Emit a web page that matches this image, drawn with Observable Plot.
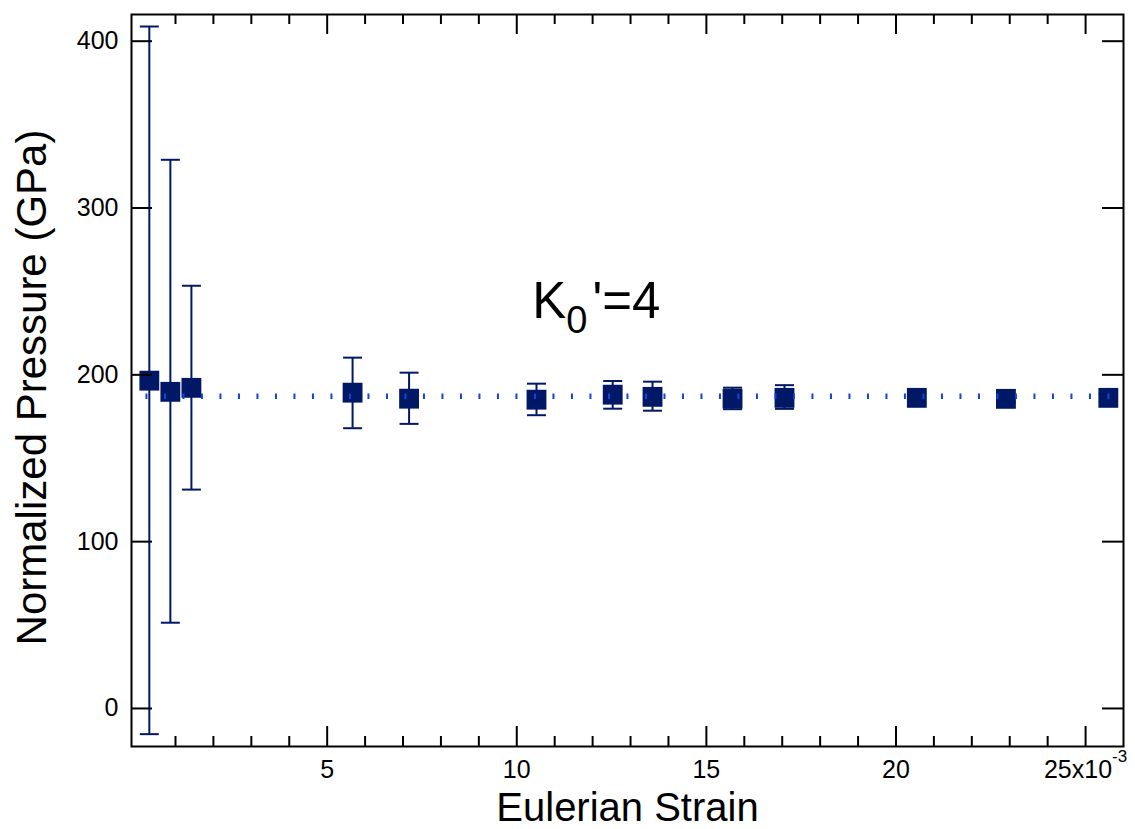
<!DOCTYPE html>
<html>
<head>
<meta charset="utf-8">
<script src="https://cdn.jsdelivr.net/npm/d3@7"></script>
<script src="https://cdn.jsdelivr.net/npm/@observablehq/plot@0.6"></script>
<style>
  html, body { margin: 0; padding: 0; background: #ffffff; }
  #chart { width: 1135px; height: 829px; }
</style>
</head>
<body>
<div id="chart"></div>
<script>
// ---- data (Eulerian strain in units of 1e-3, normalized pressure in GPa) ----
const strain   = [0.31, 0.865, 1.42, 5.67, 7.16, 10.52, 12.53, 13.58, 15.69, 17.06, 20.55, 22.90, 25.60];
const pressure = [196.5, 189.8, 192.2, 189.3, 185.7, 185.1, 188.1, 186.8, 185.7, 186.2, 186.2, 185.6, 186.2];
const errLow   = [-15.4, 51.4, 131.2, 168.0, 170.6, 175.8, 179.7, 178.5, 179.4, 179.6, 183.5, 183.5, 184.0];
const errHigh  = [408.8, 328.9, 253.4, 210.3, 201.3, 194.7, 196.3, 195.9, 192.3, 193.8, 189.0, 188.0, 188.5];

// fitted constant (dotted line)
const fitStrain   = [0.208, 25.75];
const fitPressure = [187.2, 187.2];

// tick values
const xMajorTicks = [5, 10, 15, 20, 25];
const xMinorTicks = [1, 2, 3, 4, 6, 7, 8, 9, 11, 12, 13, 14, 16, 17, 18, 19, 21, 22, 23, 24];
const yTicks = [0, 100, 200, 300, 400];

// annotation
const annotStrain = [10.41];
const annotPressure = [234.1];
const annotText = ["K0'=4"];

// ---- build tables ----
const points = strain.map((x, i) => ({x, y: pressure[i], lo: errLow[i], hi: errHigh[i]}));
const fit = fitStrain.map((x, i) => ({x, y: fitPressure[i]}));
const annot = annotText.map((t, i) => ({x: annotStrain[i], y: annotPressure[i], t}));

const W = 1135, H = 829;
const mL = 131, mR = 12, mT = 14, mB = 83;
const plotW = W - mL - mR, plotH = H - mT - mB;

const markerColor = "#001866";
const fitColor = "#1144dd";
const capSymbol = { draw(ctx) { ctx.moveTo(-9.5, 0); ctx.lineTo(9.5, 0); } };

const svg = Plot.plot({
  width: W,
  height: H,
  marginLeft: mL,
  marginRight: mR,
  marginTop: mT,
  marginBottom: mB,
  style: { fontFamily: "'Liberation Sans', Arial, sans-serif", color: "#000", background: "#fff" },
  x: { domain: [-0.16, 26.0] },
  y: { domain: [-22.8, 416] },
  marks: [
    // error bars
    Plot.ruleX(points, { x: "x", y1: "lo", y2: "hi", stroke: markerColor, strokeWidth: 2 }),
    Plot.dot(points, { x: "x", y: "hi", symbol: capSymbol, r: 5, stroke: markerColor, strokeWidth: 2, fill: "none" }),
    Plot.dot(points, { x: "x", y: "lo", symbol: capSymbol, r: 5, stroke: markerColor, strokeWidth: 2, fill: "none" }),
    // markers
    Plot.dot(points, { x: "x", y: "y", symbol: "square", r: 11.2, fill: markerColor, stroke: "none" }),
    // fitted dotted line
    Plot.line(fit, { x: "x", y: "y", stroke: fitColor, strokeWidth: 5.5, strokeDasharray: "2,16.5", strokeLinecap: "butt" }),
    // frame
    Plot.frame({ stroke: "#000", strokeWidth: 2 }),
    // inward ticks: y left/right
    Plot.tickY(yTicks, { y: d => d, insetRight: plotW - 21, stroke: "#000", strokeWidth: 2 }),
    Plot.tickY(yTicks, { y: d => d, insetLeft: plotW - 21, stroke: "#000", strokeWidth: 2 }),
    // inward ticks: x bottom/top, major and minor
    Plot.tickX(xMajorTicks, { x: d => d, insetTop: plotH - 20, stroke: "#000", strokeWidth: 2 }),
    Plot.tickX(xMajorTicks, { x: d => d, insetBottom: plotH - 20, stroke: "#000", strokeWidth: 2 }),
    Plot.tickX(xMinorTicks, { x: d => d, insetTop: plotH - 10, stroke: "#000", strokeWidth: 2 }),
    Plot.tickX(xMinorTicks, { x: d => d, insetBottom: plotH - 10, stroke: "#000", strokeWidth: 2 }),
    // tick labels
    Plot.axisY({ ticks: yTicks, tickSize: 0, tickPadding: 13, fontSize: 25, label: null, tickFormat: d => String(d) }),
    Plot.axisX({ ticks: xMajorTicks, tickSize: 0, tickPadding: 14, fontSize: 25, label: null, tickFormat: d => String(d) }),
    // axis titles
    Plot.text(["Eulerian Strain"], { text: d => d, frameAnchor: "bottom", dy: 74, fontSize: 40, lineAnchor: "bottom", fill: "#000" }),
    Plot.text(["Normalized Pressure (GPa)"], { text: d => d, frameAnchor: "left", dx: -86, dy: 7, rotate: -90, fontSize: 42, lineAnchor: "bottom", textAnchor: "middle", fill: "#000" }),
    // annotation
    Plot.text(annot, { x: "x", y: "y", text: "t", textAnchor: "start", lineAnchor: "bottom", fontSize: 51, fill: "#000" })
  ]
});

document.getElementById("chart").append(svg);

// post-process: superscript on last x tick label, subscript in annotation
d3.select(svg).selectAll("text").each(function () {
  const el = d3.select(this);
  const txt = this.textContent;
  if (txt === "25") {
    el.text(null);
    el.append("tspan").text("25x10");
    el.append("tspan").attr("dy", -16).attr("font-size", 17).text("-3");
  } else if (txt === "K0'=4") {
    el.text(null);
    el.append("tspan").text("K");
    el.append("tspan").attr("dx", 0).attr("dy", 15).attr("font-size", 38).text("0");
    el.append("tspan").attr("dx", 5).attr("dy", -15).attr("font-size", 51).text("'=4");
  }
});
</script>
</body>
</html>
